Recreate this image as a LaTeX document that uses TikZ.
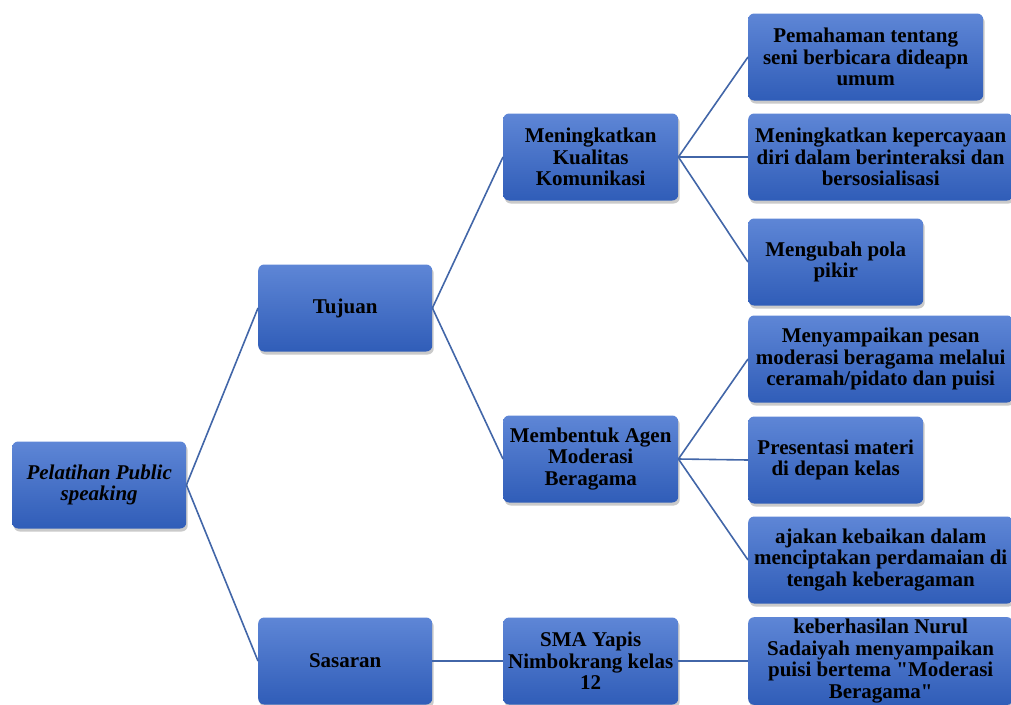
\documentclass[tikz,border=0pt]{standalone}
\usepackage{fontspec}
\setmainfont{Liberation Serif}
\usetikzlibrary{shadows}
\definecolor{boxtop}{RGB}{94,134,214}
\definecolor{boxbot}{RGB}{48,93,184}
\definecolor{linkblue}{RGB}{66,102,168}
\tikzset{
  box/.style={rectangle, rounded corners=6pt, top color=boxtop, bottom color=boxbot,
    minimum height=87pt, inner sep=2pt, align=center, anchor=west,
    font=\fontsize{21}{21.5}\selectfont\bfseries,
    drop shadow={shadow xshift=1.5pt, shadow yshift=-3pt, opacity=0.35, fill=black!60}},
  link/.style={draw=linkblue, line width=1.6pt}
}
\begin{document}
\begin{tikzpicture}[x=1pt,y=-1pt]
\useasboundingbox (0,0) rectangle (1011,704);
% levels
\node [box, minimum width=174pt] (root) at (12,485) {\itshape Pelatihan Public\\ \itshape speaking};
\node [box, minimum width=174pt] (tujuan) at (258,308) {Tujuan};
\node [box, minimum width=174pt] (sasaran) at (258,661) {Sasaran};
\node [box, minimum width=175pt] (kualitas) at (503,157) {Meningkatkan\\Kualitas\\Komunikasi};
\node [box, minimum width=175pt] (agen) at (503,459) {Membentuk Agen\\Moderasi\\Beragama};
\node [box, minimum width=175pt] (sma) at (503,661) {SMA Yapis\\Nimbokrang kelas\\12};
% leaves
\node [box, minimum width=235pt] (seni) at (748,57) {Pemahaman tentang\\seni berbicara dideapn\\umum};
\node [box, minimum width=265pt] (percaya) at (748,157) {Meningkatkan kepercayaan\\diri dalam berinteraksi dan\\bersosialisasi};
\node [box, minimum width=175pt] (pola) at (748,262) {Mengubah pola\\pikir};
\node [box, minimum width=265pt] (pesan) at (748,359) {Menyampaikan pesan\\moderasi beragama melalui\\ceramah/pidato dan puisi};
\node [box, minimum width=175pt] (materi) at (748,460) {Presentasi materi\\di depan kelas};
\node [box, minimum width=265pt] (ajakan) at (748,560) {ajakan kebaikan dalam\\menciptakan perdamaian di\\tengah keberagaman};
\node [box, minimum width=265pt] (puisi) at (748,661) {keberhasilan Nurul\\Sadaiyah menyampaikan\\puisi bertema \textquotedbl Moderasi\\Beragama\textquotedbl};
% connectors
\draw [link] (root.east) -- (tujuan.west);
\draw [link] (root.east) -- (sasaran.west);
\draw [link] (tujuan.east) -- (kualitas.west);
\draw [link] (tujuan.east) -- (agen.west);
\draw [link] (sasaran.east) -- (sma.west);
\draw [link] (kualitas.east) -- (seni.west);
\draw [link] (kualitas.east) -- (percaya.west);
\draw [link] (kualitas.east) -- (pola.west);
\draw [link] (agen.east) -- (pesan.west);
\draw [link] (agen.east) -- (materi.west);
\draw [link] (agen.east) -- (ajakan.west);
\draw [link] (sma.east) -- (puisi.west);
\end{tikzpicture}
\end{document}
